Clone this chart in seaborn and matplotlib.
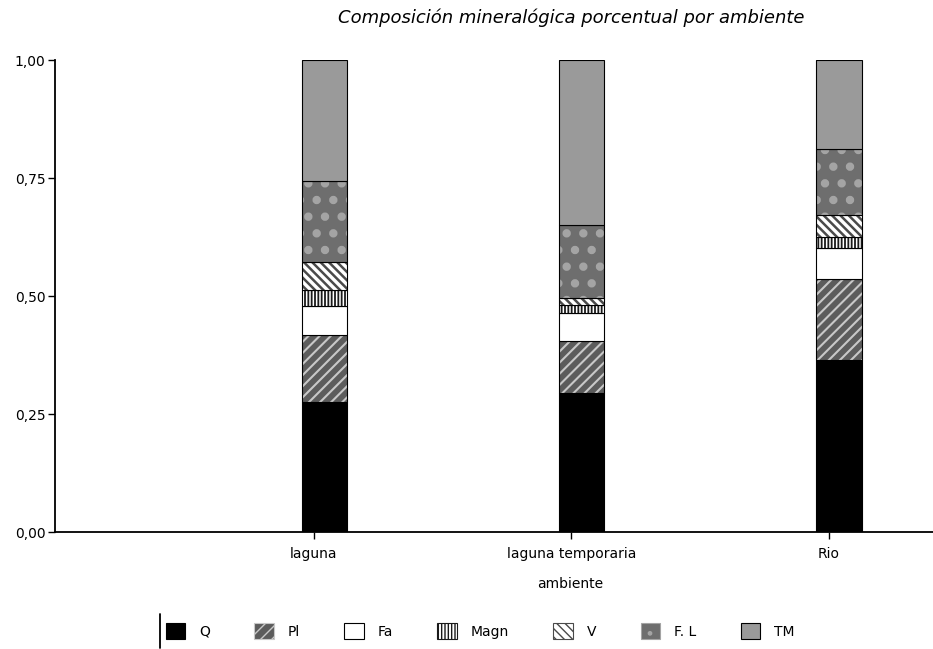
import numpy as np
import matplotlib
matplotlib.use('Agg')
import matplotlib.pyplot as plt
import seaborn as sns
from matplotlib.patches import Patch
from matplotlib.lines import Line2D

# ── Data ─────────────────────────────────────────────────────────────────
ambientes = ['laguna', 'laguna temporaria', 'Rio']
minerales = ['Q', 'Pl', 'Fa', 'Magn', 'V', 'F. L', 'TM']
Q = [0.276, 0.294, 0.364]
Pl = [0.141, 0.111, 0.171]
Fa = [0.062, 0.058, 0.066]
Magn = [0.034, 0.018, 0.025]
V = [0.058, 0.014, 0.046]
FL = [0.173, 0.155, 0.139]
TM = [0.256, 0.350, 0.189]
series = [Q, Pl, Fa, Magn, V, FL, TM]
yticks = [0.0, 0.25, 0.5, 0.75, 1.0]
ytick_labels = ['0,00', '0,25', '0,50', '0,75', '1,00']

# face colour, hatch colour, hatch pattern, hatch linewidth
STYLES = {
    'Q':    ('#000000', '#000000', None, 1.0),
    'Pl':   ('#5c5c5c', '#c8c8c8', '///', 1.5),
    'Fa':   ('#ffffff', '#ffffff', None, 1.0),
    'Magn': ('#ffffff', '#1a1a1a', '|||||', 1.3),
    'V':    ('#ffffff', '#4a4a4a', '\\' * 4, 1.8),
    'F. L': ('#6e6e6e', '#a4a4a4', '.', 3.6),
    'TM':   ('#9a9a9a', '#9a9a9a', None, 1.0),
}

sns.set_style('white')
plt.rcParams['font.family'] = ['DejaVu Sans']
plt.rcParams['font.size'] = 10
plt.rcParams['text.color'] = 'black'
plt.rcParams['xtick.color'] = 'black'
plt.rcParams['ytick.color'] = 'black'
plt.rcParams['axes.labelcolor'] = 'black'

fig = plt.figure(figsize=(9.33, 6.49), dpi=100)
ax = fig.add_axes([55 / 933, 1 - 532 / 649, 1 - 55 / 933, (532 - 60) / 649])

bottom = np.zeros(len(ambientes))
for name, vals in zip(minerales, series):
    face, hcol, hatch, hlw = STYLES[name]
    with plt.rc_context({'hatch.linewidth': hlw}):
        sns.barplot(x=ambientes, y=vals, bottom=bottom, color=face,
                    edgecolor=hcol, linewidth=0, hatch=hatch, width=0.175,
                    saturation=1, errorbar=None, ax=ax)
    # outline of each segment
    sns.barplot(x=ambientes, y=vals, bottom=bottom, fill=False, color='black',
                linewidth=0.8, width=0.175, errorbar=None, ax=ax)
    bottom = bottom + np.array(vals)

ax.set_ylim(0, 1.0)
ax.set_xlim(-1.045, 2.365)
ax.set_yticks(yticks)
ax.set_yticklabels(ytick_labels, fontsize=10)
ax.set_xticks(np.arange(len(ambientes)) - 0.04)
ax.set_xticklabels(ambientes, fontsize=10)
ax.tick_params(axis='both', which='both', direction='out', length=5,
               width=1, color='black', left=True, bottom=True)
ax.tick_params(axis='x', pad=6)
ax.tick_params(axis='y', pad=2)
for side in ['top', 'right']:
    ax.spines[side].set_visible(False)
for side in ['left', 'bottom']:
    ax.spines[side].set_color('black')
    ax.spines[side].set_linewidth(1.3)
ax.set_ylabel('')
ax.set_xlabel('ambiente', fontsize=10)
ax.xaxis.set_label_coords((570 - 55) / 878, -0.095)

fig.text(571 / 933, 1 - 18 / 649, 'Composición mineralógica porcentual por ambiente',
         ha='center', va='center', fontsize=13, style='italic')

handles = []
for name in minerales:
    face, hcol, hatch, hlw = STYLES[name]
    with plt.rc_context({'hatch.linewidth': min(hlw, 1.2)}):
        handles.append(Patch(facecolor=face, edgecolor=hcol if hatch else 'black',
                             hatch=hatch, linewidth=0.8))
labels = ['Q', 'Pl', 'Fa', 'Magn', 'V', 'F. L', 'TM']
leg = fig.legend(handles, labels, loc='center left', ncol=7, frameon=False,
                 bbox_to_anchor=(160 / 933, 1 - 631 / 649), fontsize=10,
                 handlelength=1.4, handleheight=1.3, handletextpad=1.0,
                 columnspacing=3.2, borderaxespad=0)
fig.add_artist(Line2D([160 / 933, 160 / 933], [1 - 614 / 649, 1 - 648 / 649],
                      color='black', lw=1.3, transform=fig.transFigure))

fig.savefig('out.png', dpi=100, facecolor='white')
